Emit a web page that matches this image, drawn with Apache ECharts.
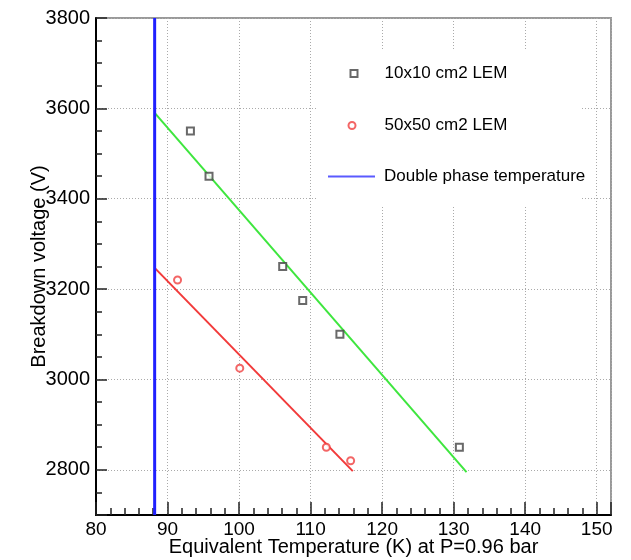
<!DOCTYPE html>
<html>
<head>
<meta charset="utf-8">
<script src="https://cdn.jsdelivr.net/npm/echarts@6/dist/echarts.min.js"></script>
<style>
html,body{margin:0;padding:0;background:#fff;}
#chart{width:631px;height:560px;}
</style>
</head>
<body>
<div id="chart"></div>
<script>
// ---- data ----
const lem10Temp = [93.2, 95.8, 106.1, 108.9, 114.1, 130.8];
const lem10Volt = [3550, 3450, 3250, 3175, 3100, 2850];
const lem50Temp = [91.4, 100.1, 112.2, 115.6];
const lem50Volt = [3220, 3025, 2850, 2820];
const fit10Temp = [88.2, 131.8];
const fit10Volt = [3590, 2795];
const fit50Temp = [88.2, 115.9];
const fit50Volt = [3247, 2797];
const phaseTemp = [88.2, 88.2];
const phaseVolt = [2700, 3800];
const xRange = [80, 152];
const yRange = [2700, 3800];
const seriesNames = ['10x10 cm2 LEM', '50x50 cm2 LEM', 'Double phase temperature'];
const xTitle = 'Equivalent Temperature (K) at P=0.96 bar';
const yTitle = 'Breakdown voltage (V)';

const zip = (a, b) => a.map((v, i) => [v, b[i]]);
const FONT = '"Liberation Sans", Arial, Helvetica, sans-serif';

const chart = echarts.init(document.getElementById('chart'), null, {renderer: 'canvas'});

const legendBase = {
  orient: 'vertical',
  padding: 0,
  itemGap: 0,
  selectedMode: false,
  textStyle: {fontFamily: FONT, fontSize: 17, color: '#000'}
};

chart.setOption({
  animation: false,
  backgroundColor: '#fff',
  grid: {left: 96, right: 20, top: 18, bottom: 45, show: true, borderColor: '#999', borderWidth: 2,
    backgroundColor: 'transparent', containLabel: false, outerBoundsMode: 'none'},
  graphic: [{
    type: 'rect', left: 318, top: 50, z: 1,
    shape: {width: 262, height: 157},
    style: {fill: '#fff'}
  }],
  legend: [
    Object.assign({}, legendBase, {
      data: [seriesNames[0]], left: 349.5, top: 65, itemWidth: 7, itemHeight: 7,
      textStyle: Object.assign({}, legendBase.textStyle, {padding: [0, 0, 0, 22]})
    }),
    Object.assign({}, legendBase, {
      data: [seriesNames[1]], left: 347.5, top: 117, itemWidth: 7, itemHeight: 7,
      textStyle: Object.assign({}, legendBase.textStyle, {padding: [0, 0, 0, 24]})
    }),
    Object.assign({}, legendBase, {
      data: [{name: seriesNames[2], icon: 'rect', itemStyle: {color: '#5a5aff'}}], left: 328, top: 168, itemWidth: 47, itemHeight: 2,
      textStyle: Object.assign({}, legendBase.textStyle, {padding: [0, 0, 0, 4]})
    })
  ],
  xAxis: {
    type: 'value', min: xRange[0], max: xRange[1], interval: 10,
    name: xTitle, nameLocation: 'middle', nameGap: 22, nameMoveOverlap: false,
    nameTextStyle: {fontFamily: FONT, fontSize: 20, color: '#000'},
    axisLine: {show: true, onZero: false, lineStyle: {color: '#000', width: 2}},
    axisTick: {show: true, inside: true, length: 13, lineStyle: {color: '#222', width: 1.5}},
    minorTick: {show: true, splitNumber: 5, length: 7, lineStyle: {color: '#222', width: 1.5}},
    axisLabel: {fontFamily: FONT, fontSize: 19, color: '#000', margin: 5, showMaxLabel: false,
      formatter: v => (v % 10 === 0 ? String(v) : '')},
    splitLine: {show: true, lineStyle: {color: '#aaa', type: [1, 2], width: 1}}
  },
  yAxis: {
    type: 'value', min: yRange[0], max: yRange[1], splitNumber: 5,
    name: yTitle, nameLocation: 'middle', nameGap: 47, nameRotate: 90, nameMoveOverlap: false,
    nameTextStyle: {fontFamily: FONT, fontSize: 20, color: '#000'},
    axisLine: {show: true, onZero: false, lineStyle: {color: '#000', width: 2}},
    axisTick: {show: true, inside: true, length: 11, lineStyle: {color: '#222', width: 1.5}},
    minorTick: {show: true, splitNumber: 4, length: 6, lineStyle: {color: '#222', width: 1.5}},
    axisLabel: {fontFamily: FONT, fontSize: 20, color: '#000', margin: 6, showMinLabel: false,
      formatter: v => (v % 200 === 0 ? String(v) : '')},
    splitLine: {show: true, lineStyle: {color: '#aaa', type: [1, 2], width: 1}}
  },
  series: [
    {
      name: 'fit10', type: 'line', data: zip(fit10Temp, fit10Volt), symbol: 'none',
      lineStyle: {color: '#3ee63e', width: 2}, itemStyle: {color: '#3ee63e'}, z: 2
    },
    {
      name: 'fit50', type: 'line', data: zip(fit50Temp, fit50Volt), symbol: 'none',
      lineStyle: {color: '#f23a3a', width: 2}, itemStyle: {color: '#f23a3a'}, z: 2
    },
    {
      name: seriesNames[2], type: 'line', data: zip(phaseTemp, phaseVolt), symbol: 'none',
      lineStyle: {color: '#2020ff', width: 3}, itemStyle: {color: '#2020ff'}, z: 3
    },
    {
      name: seriesNames[0], type: 'scatter', data: zip(lem10Temp, lem10Volt),
      symbol: 'emptyRect', symbolSize: 7,
      itemStyle: {color: '#444', borderWidth: 1.2}, z: 4
    },
    {
      name: seriesNames[1], type: 'scatter', data: zip(lem50Temp, lem50Volt),
      symbol: 'emptyCircle', symbolSize: 7,
      itemStyle: {color: '#f04040', borderWidth: 1.2}, z: 4
    }
  ]
});
</script>
</body>
</html>
